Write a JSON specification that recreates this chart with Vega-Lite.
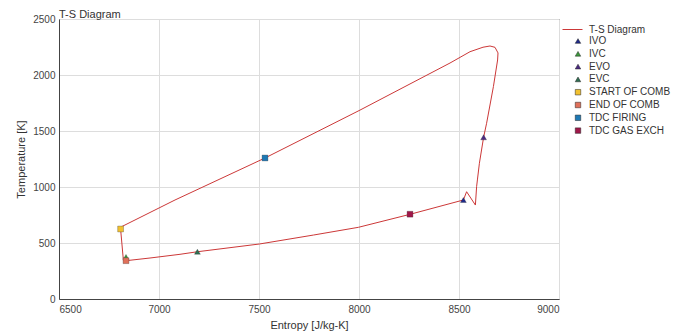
{
  "$schema": "https://vega.github.io/schema/vega-lite/v6.json",
  "width": 500,
  "height": 280,
  "autosize": {"type": "none"},
  "padding": {"left": 59, "top": 19, "right": 126, "bottom": 37},
  "background": "white",
  "title": {"text": "T-S Diagram", "anchor": "start", "frame": "group", "fontSize": 11, "fontWeight": "normal", "font": "Liberation Sans", "color": "#333333", "offset": -6},
  "config": {
    "view": {"stroke": "#444444", "strokeWidth": 1},
    "axis": {
      "domainColor": "#444444",
      "gridColor": "#dddddd",
      "ticks": false,
      "labelFont": "Liberation Sans",
      "labelFontSize": 10,
      "labelColor": "#444444",
      "titleFont": "Liberation Sans",
      "titleFontSize": 11,
      "titleFontWeight": "normal",
      "titleColor": "#333333"
    },
    "legend": {"labelFont": "Liberation Sans", "labelFontSize": 10, "labelColor": "#333333", "padding": 0, "rowPadding": 2.8}
  },
  "datasets": {
    "cycle": [
      {"i": 1, "s": 6808, "T": 625},
      {"i": 2, "s": 6810, "T": 643},
      {"i": 3, "s": 7080, "T": 884},
      {"i": 4, "s": 7530, "T": 1259},
      {"i": 5, "s": 8000, "T": 1682},
      {"i": 6, "s": 8455, "T": 2107},
      {"i": 7, "s": 8555, "T": 2208},
      {"i": 8, "s": 8620, "T": 2248},
      {"i": 9, "s": 8655, "T": 2259},
      {"i": 10, "s": 8680, "T": 2247},
      {"i": 11, "s": 8695, "T": 2197},
      {"i": 12, "s": 8693, "T": 2134},
      {"i": 13, "s": 8672, "T": 1896},
      {"i": 14, "s": 8638, "T": 1569},
      {"i": 15, "s": 8623, "T": 1444},
      {"i": 16, "s": 8602, "T": 1212},
      {"i": 17, "s": 8592, "T": 1063},
      {"i": 18, "s": 8588, "T": 1003},
      {"i": 19, "s": 8582, "T": 839},
      {"i": 20, "s": 8538, "T": 958},
      {"i": 21, "s": 8522, "T": 884},
      {"i": 22, "s": 8255, "T": 756},
      {"i": 23, "s": 7997, "T": 640},
      {"i": 24, "s": 7772, "T": 571},
      {"i": 25, "s": 7502, "T": 491},
      {"i": 26, "s": 7192, "T": 422},
      {"i": 27, "s": 7105, "T": 399},
      {"i": 28, "s": 6955, "T": 366},
      {"i": 29, "s": 6835, "T": 342},
      {"i": 30, "s": 6822, "T": 344},
      {"i": 31, "s": 6808, "T": 625}
    ],
    "markers": [
      {"name": "IVO", "s": 8522, "T": 884},
      {"name": "IVC", "s": 6835, "T": 375},
      {"name": "EVO", "s": 8623, "T": 1444},
      {"name": "EVC", "s": 7192, "T": 422},
      {"name": "START OF COMB", "s": 6808, "T": 625},
      {"name": "END OF COMB", "s": 6835, "T": 342},
      {"name": "TDC FIRING", "s": 7530, "T": 1259},
      {"name": "TDC GAS EXCH", "s": 8255, "T": 757}
    ]
  },
  "encoding": {
    "x": {"field": "s", "type": "quantitative", "scale": {"domain": [6500, 9000], "nice": false}, "axis": {"values": [6500, 7000, 7500, 8000, 8500, 9000], "format": "d", "title": "Entropy [J/kg-K]", "labelPadding": 5, "titleY": 26, "titleBaseline": "middle"}},
    "y": {"field": "T", "type": "quantitative", "scale": {"domain": [0, 2500], "nice": false}, "axis": {"values": [0, 500, 1000, 1500, 2000, 2500], "format": "d", "title": "Temperature [K]", "labelPadding": 4, "titleX": -38, "titleY": 140, "titleAngle": -90, "titleAlign": "center", "titleBaseline": "middle"}}
  },
  "layer": [
    {
      "data": {"name": "cycle"},
      "mark": {"type": "line", "strokeWidth": 1},
      "encoding": {
        "order": {"field": "i", "type": "quantitative"},
        "stroke": {
          "datum": "T-S Diagram",
          "scale": {"domain": ["T-S Diagram"], "range": ["#cc3838"]},
          "legend": {"title": null, "orient": "none", "legendX": 503, "legendY": 0, "symbolType": "stroke", "symbolSize": 400, "symbolStrokeWidth": 1, "labelOffset": 6}
        }
      }
    },
    {
      "data": {"name": "markers"},
      "mark": {"type": "point", "filled": true, "opacity": 1, "stroke": "#222222", "strokeOpacity": 0.55, "strokeWidth": 0.5, "size": 34},
      "encoding": {
        "color": {
          "field": "name", "type": "nominal",
          "scale": {
            "domain": ["IVO", "IVC", "EVO", "EVC", "START OF COMB", "END OF COMB", "TDC FIRING", "TDC GAS EXCH"],
            "range": ["#1f2a8a", "#3c9a3c", "#4b2a82", "#2e6e52", "#f2c12e", "#e0705a", "#1e78b4", "#a0174a"]
          },
          "legend": {"title": null, "orient": "none", "legendX": 514, "legendY": 17, "symbolSize": 30, "symbolStrokeWidth": 0.5, "labelOffset": 6, "symbolOpacity": 1}
        },
        "shape": {
          "field": "name", "type": "nominal",
          "scale": {
            "domain": ["IVO", "IVC", "EVO", "EVC", "START OF COMB", "END OF COMB", "TDC FIRING", "TDC GAS EXCH"],
            "range": ["triangle-up", "triangle-up", "triangle-up", "triangle-up", "square", "square", "square", "square"]
          },
          "legend": {"title": null, "orient": "none", "legendX": 514, "legendY": 17, "symbolSize": 30, "symbolStrokeWidth": 0.5, "labelOffset": 6, "symbolOpacity": 1}
        }
      }
    }
  ]
}
